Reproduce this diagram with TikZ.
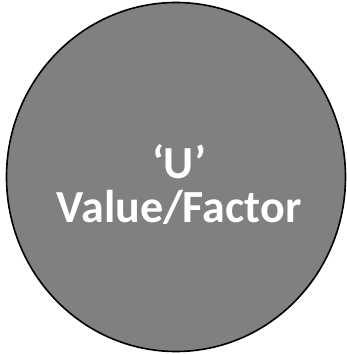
\documentclass[tikz,border=0pt]{standalone}
\usepackage{fontspec}
\setmainfont{Carlito}
\definecolor{gray50}{RGB}{128,128,128}
\tikzset{
  unit/.style={draw=black, line width=1.6pt, fill=gray50},
  label/.style={text=white, font=\bfseries\fontsize{46}{44}\selectfont, align=center}
}
\begin{document}
\begin{tikzpicture}[x=1pt,y=1pt]
\useasboundingbox (0,0) rectangle (346,354);
\path[unit] (176,177) ellipse [x radius=169.5, y radius=174.5];
\node[label] (t) at (179,169) {‘U’\\Value/Factor};
\end{tikzpicture}
\end{document}
